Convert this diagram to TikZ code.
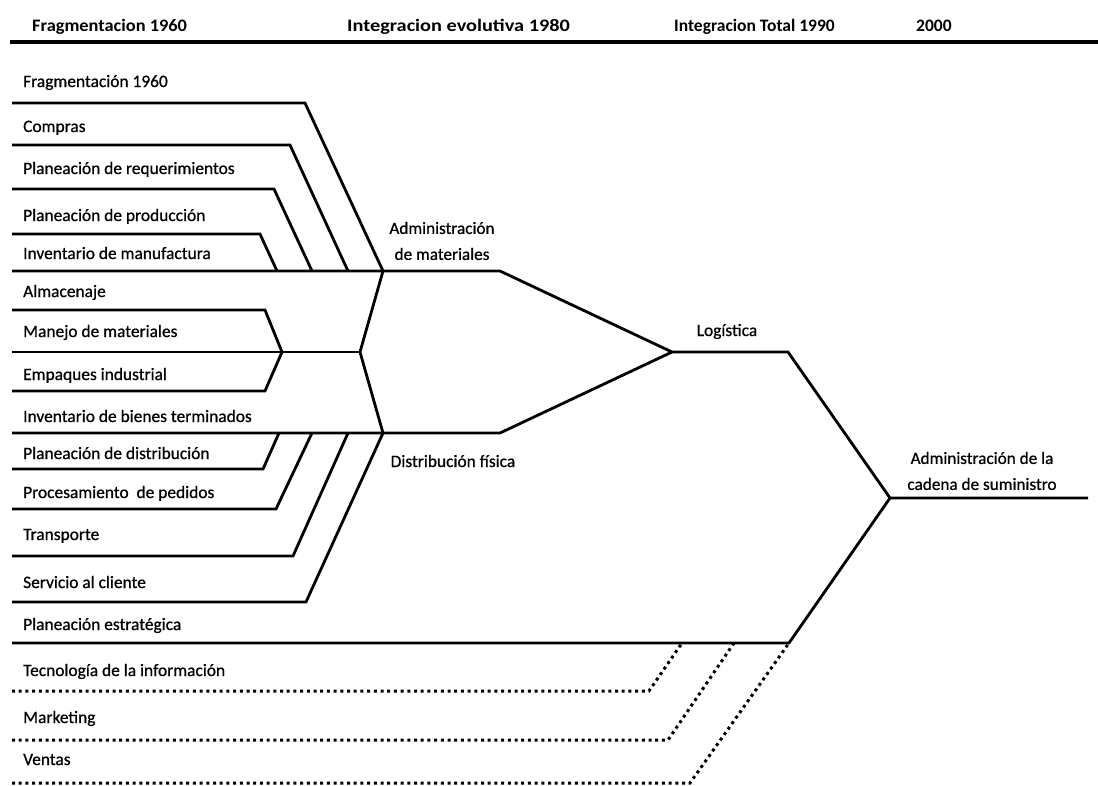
\documentclass[tikz,border=0pt]{standalone}
\usepackage{graphicx}
\usepackage{fontspec}
\setmainfont{Carlito}
\newfontfamily\etiqfont[FakeBold=0.7]{Carlito}

\begin{document}
\begin{tikzpicture}[x=1pt, y=-1pt,
		linea/.style={line width=2.8pt, line join=miter},
		punteada/.style={line width=3pt, dash pattern=on 3pt off 3.7pt},
		etiq/.style={inner sep=0pt, anchor=base west, font=\etiqfont\fontsize{17.4}{20}\selectfont},
		titulo/.style={inner sep=0pt, anchor=base west, font=\bfseries\fontsize{17.5}{20}\selectfont},
		bloque/.style={inner sep=0pt, align=center, font=\etiqfont\fontsize{17.2}{26}\selectfont}]
			\useasboundingbox (0,0) rectangle (1098,785);

			% encabezado
			\node[titulo] (t60) at (32,31) {\scalebox{1.05}[1]{Fragmentacion 1960}};
			\node[titulo] (t80) at (347,31) {\scalebox{1.16}[1]{Integracion evolutiva 1980}};
			\node[titulo] (t90) at (674,31) {Integracion Total 1990};
			\node[titulo] (t00) at (916,31) {2000};
			\coordinate (h0) at (10,42);
			\coordinate (h1) at (1098,42);
			\draw[line width=3.8pt] (h0) -- (h1);

			% etiquetas de la izquierda
			\node[etiq] (fra) at (23,87) {Fragmentación 1960};
			\node[etiq] (com) at (23,132) {Compras};
			\node[etiq] (req) at (23,174) {Planeación de requerimientos};
			\node[etiq] (pro) at (23,221) {Planeación de producción};
			\node[etiq] (man) at (23,259) {Inventario de manufactura};
			\node[etiq] (alm) at (23,297) {Almacenaje};
			\node[etiq] (mjm) at (23,337) {Manejo de materiales};
			\node[etiq] (emp) at (23,380) {Empaques industrial};
			\node[etiq] (inv) at (23,422) {Inventario de bienes terminados};
			\node[etiq] (dis) at (23,459) {Planeación de distribución};
			\node[etiq] (ped) at (23,498) {Procesamiento\ \ de pedidos};
			\node[etiq] (tra) at (23,540) {Transporte};
			\node[etiq] (ser) at (23,588) {Servicio al cliente};
			\node[etiq] (est) at (23,630) {Planeación estratégica};
			\node[etiq] (tec) at (23,676) {Tecnología de la información};
			\node[etiq] (mkt) at (23,723) {Marketing};
			\node[etiq] (ven) at (23,765) {Ventas};

			% etiquetas de las etapas
			\node[bloque] (adm) at (442,241) {Administración\\de materiales};
			\node[etiq, anchor=base] (dfi) at (453,467) {Distribución física};
			\node[etiq, anchor=base] (log) at (727,336) {Logística};
			\node[bloque] (cad) at (982,471) {Administración de la\\cadena de suministro};

			% uniones
			\coordinate (am) at (383,271);
			\coordinate (df) at (383,433);
			\coordinate (mm) at (282,352);
			\coordinate (cm) at (360,352);
			\coordinate (lg) at (672,352);
			\coordinate (sc) at (890,498);

			% administracion de materiales
			\draw[linea] (12,103) -- (305,103) -- (am);
			\draw[linea] (12,145) -- (290,145) -- (348,271);
			\draw[linea] (12,189) -- (274,189) -- (312,271);
			\draw[linea] (12,234) -- (260,234) -- (277,271);
			\draw[linea] (12,271) -- (500,271) -- (lg);

			% almacenaje y empaques
			\draw[linea] (12,310) -- (265,310) -- (mm);
			\draw[linea] (12,391) -- (265,391) -- (mm);
			\draw[linea] (12,352) -- (cm);
			\draw[linea] (am) -- (cm) -- (df);

			% distribucion fisica
			\draw[linea] (12,433) -- (500,433) -- (lg);
			\draw[linea] (12,469) -- (263,469) -- (279,433);
			\draw[linea] (12,509) -- (276,509) -- (312,433);
			\draw[linea] (12,556) -- (293,556) -- (348,433);
			\draw[linea] (12,602) -- (306,602) -- (df);

			% logistica y cadena de suministro
			\draw[linea] (lg) -- (788,352) -- (sc) -- (1088,498);
			\draw[linea] (12,643) -- (789,643) -- (sc);

			% lineas punteadas
			\draw[punteada] (12,691) -- (649,691) -- (682,643);
			\draw[punteada] (12,740) -- (668,740) -- (734,643);
			\draw[punteada] (12,783) -- (690,783) -- (789,643);
\end{tikzpicture}
\end{document}
